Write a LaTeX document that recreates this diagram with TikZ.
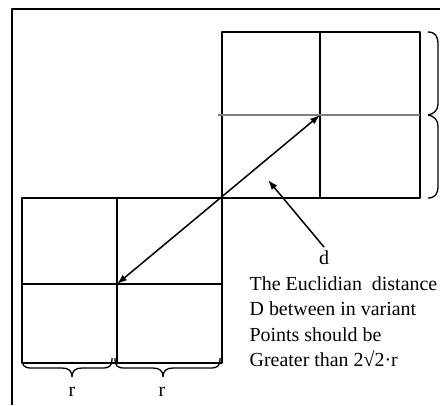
\documentclass[tikz,border=0pt]{standalone}
\usepackage{fontspec}
\setmainfont{Liberation Serif}
\usetikzlibrary{arrows.meta}
\begin{document}
\begin{tikzpicture}[>={Latex[length=10bp,width=7bp]},line join=bevel,x=1bp,y=-1bp,
  every node/.style={font=\fontsize{20}{25.5}\selectfont}]
  \useasboundingbox (0,0) rectangle (440,405);
  \pgfsetlinewidth{1.3bp}
%%
  % Frame
  \draw [line width=2.4bp] (12,405) -- (12,9) -- (440,9);
  % Block: upper
  \draw (222,32) rectangle (420,198);
  \draw (320,32) -- (320,198);
  \draw [black!50, line width=2.2bp] (218,115) -- (420,115);
  % Block: lower
  \draw (22,198) rectangle (222,363);
  \draw (117,198) -- (117,363);
  \draw (22,284) -- (222,284);
  % Points
  \coordinate (Upper) at (320,115);
  \coordinate (Lower) at (117,284);
  \coordinate (Gap) at (268,180);
  % Edge: Upper <-> Lower
  \draw [<->, line width=1.5bp] (Upper) -- (Lower);
  % Node: d
  \node (Dist) at (324,258) {d};
  % Edge: Dist -> Gap
  \draw [->, line width=1.5bp] (Dist.north) -- (Gap);
  % Node: Note
  \node (Note) [anchor=north west, inner sep=0pt, align=left] at (249,276)
    {The Euclidian\ \ distance\\D between in variant\\Points should be\\Greater than 2√2·r};
  % Brace: right
  \draw (428,32) .. controls (435,32) and (438,36) .. (438,44) -- (438,104)
    .. controls (438,110) and (434,114) .. (428,115)
    .. controls (434,116) and (438,120) .. (438,126) -- (438,186)
    .. controls (438,194) and (435,198) .. (428,198);
  % Brace: bottom left
  \draw (22,358) .. controls (22,366) and (24,368) .. (32,368) -- (62,368)
    .. controls (69,368) and (72,371) .. (72,377)
    .. controls (72,371) and (75,368) .. (82,368) -- (102,368)
    .. controls (110,368) and (112,366) .. (112,358);
  % Brace: bottom right
  \draw (115,358) .. controls (115,366) and (117,368) .. (125,368) -- (153,368)
    .. controls (160,368) and (163,371) .. (163,377)
    .. controls (163,371) and (166,368) .. (173,368) -- (210,368)
    .. controls (218,368) and (220,366) .. (220,358);
  % Node: r labels
  \node (LeftR) at (72,392) {r};
  \node (RightR) at (162,392) {r};
%
\end{tikzpicture}
\end{document}
